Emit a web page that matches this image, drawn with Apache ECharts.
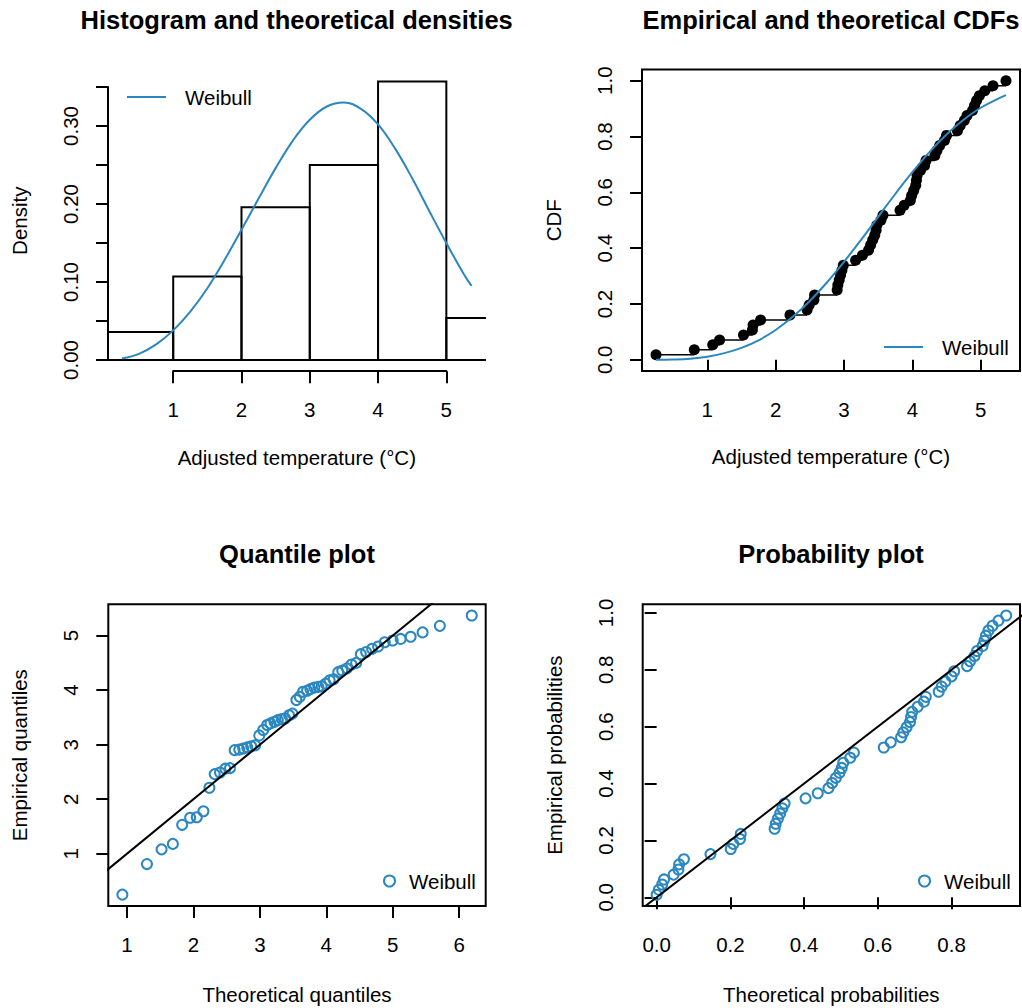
<!DOCTYPE html>
<html>
<head>
<meta charset="utf-8">
<title>Weibull fit diagnostics</title>
<script src="https://cdn.jsdelivr.net/npm/echarts@6.0.0/dist/echarts.min.js"></script>
<style>
  html, body { margin: 0; padding: 0; background: #fff; }
  #chart { width: 1022px; height: 1008px; }
</style>
</head>
<body>
<div id="chart"></div>
<script>
// sorted adjusted temperatures (°C), n = 56
var temps = [0.25, 0.81, 1.08, 1.18, 1.53, 1.66, 1.67, 1.78,
  2.21, 2.46, 2.49, 2.56, 2.57, 2.90, 2.91, 2.93, 2.95, 2.97, 2.99,
  3.17, 3.27, 3.36, 3.39, 3.42, 3.45, 3.47, 3.48, 3.54, 3.57, 3.82, 3.88, 3.97, 3.99,
  4.02, 4.05, 4.06, 4.07, 4.12, 4.18, 4.20, 4.33, 4.36, 4.40, 4.47, 4.50, 4.66, 4.70,
  4.76, 4.80, 4.88, 4.91, 4.94, 4.98, 5.06, 5.18, 5.37];
// empirical cdf levels (i/n)
var ecdfProbs = [0.018, 0.036, 0.054, 0.071, 0.089, 0.107, 0.125, 0.143, 0.161, 0.179,
  0.196, 0.214, 0.232, 0.250, 0.268, 0.286, 0.304, 0.321, 0.339, 0.357, 0.375, 0.393,
  0.411, 0.429, 0.446, 0.464, 0.482, 0.500, 0.518, 0.536, 0.554, 0.571, 0.589, 0.607,
  0.625, 0.643, 0.661, 0.679, 0.696, 0.714, 0.732, 0.750, 0.768, 0.786, 0.804, 0.821,
  0.839, 0.857, 0.875, 0.893, 0.911, 0.929, 0.946, 0.964, 0.982, 1.000];
// plotting positions used in the Q-Q and P-P plots
var empProbs = [0.009, 0.027, 0.045, 0.063, 0.080, 0.098, 0.116, 0.134, 0.152, 0.170,
  0.188, 0.205, 0.223, 0.241, 0.259, 0.277, 0.295, 0.313, 0.330, 0.348, 0.366, 0.384,
  0.402, 0.420, 0.438, 0.455, 0.473, 0.491, 0.509, 0.527, 0.545, 0.563, 0.580, 0.598,
  0.616, 0.634, 0.652, 0.670, 0.688, 0.705, 0.723, 0.741, 0.759, 0.777, 0.795, 0.813,
  0.830, 0.848, 0.866, 0.884, 0.902, 0.920, 0.938, 0.955, 0.973, 0.991];
var theoQuantiles = [0.93, 1.30, 1.52, 1.69, 1.83, 1.95, 2.05, 2.15, 2.24, 2.32, 2.40,
  2.48, 2.55, 2.62, 2.69, 2.75, 2.81, 2.87, 2.93, 2.99, 3.05, 3.11, 3.16, 3.22, 3.27,
  3.33, 3.38, 3.44, 3.49, 3.55, 3.60, 3.65, 3.71, 3.76, 3.82, 3.88, 3.93, 3.99, 4.05,
  4.11, 4.18, 4.24, 4.31, 4.38, 4.45, 4.52, 4.60, 4.69, 4.78, 4.88, 5.00, 5.12, 5.27,
  5.45, 5.71, 6.19];
var theoProbs = [0.000, 0.006, 0.015, 0.020, 0.046, 0.059, 0.061, 0.074, 0.146, 0.201,
  0.208, 0.226, 0.228, 0.320, 0.323, 0.329, 0.335, 0.341, 0.347, 0.404, 0.437, 0.466,
  0.476, 0.486, 0.496, 0.502, 0.506, 0.525, 0.535, 0.616, 0.635, 0.663, 0.669, 0.678,
  0.687, 0.690, 0.693, 0.708, 0.725, 0.730, 0.765, 0.773, 0.783, 0.800, 0.807, 0.842,
  0.850, 0.862, 0.869, 0.884, 0.889, 0.893, 0.900, 0.911, 0.927, 0.948];
// histogram
var binEdges = [0, 1, 2, 3, 4, 5, 6];
var binDensity = [0.036, 0.107, 0.196, 0.250, 0.357, 0.054];
// fitted Weibull curves
var curveX = [0.25, 0.5, 0.75, 1.0, 1.25, 1.5, 1.75, 2.0, 2.25, 2.5, 2.75, 3.0, 3.25,
  3.5, 3.75, 4.0, 4.25, 4.5, 4.75, 5.0, 5.25, 5.37];
var weibullDensity = [0.002, 0.008, 0.020, 0.038, 0.062, 0.092, 0.128, 0.167, 0.207,
  0.246, 0.281, 0.308, 0.325, 0.330, 0.322, 0.302, 0.271, 0.233, 0.191, 0.150, 0.111, 0.095];
var weibullCdf = [0.000, 0.001, 0.004, 0.011, 0.024, 0.043, 0.070, 0.107, 0.154, 0.211,
  0.277, 0.351, 0.430, 0.512, 0.594, 0.672, 0.744, 0.807, 0.860, 0.903, 0.935, 0.948];

var BLUE = '#2b87c0';
var FONT = 'Liberation Sans';
var FS = 20.5;
var txt = { color: '#000', fontFamily: FONT, fontSize: FS };

function xy(xs, ys) {
    var out = [];
    for (var i = 0; i < xs.length; i++) out.push([xs[i], ys[i]]);
    return out;
}

function valAxis(o) {
    var a = {
        type: 'value',
        axisLine: { show: false, lineStyle: { color: '#000', width: 2 } },
        axisTick: { show: true, inside: false, length: 12, lineStyle: { color: '#000', width: 2 } },
        axisLabel: { color: '#000', fontFamily: FONT, fontSize: FS, margin: 27 },
        splitLine: { show: false },
        nameLocation: 'middle',
        nameTextStyle: txt
    };
    for (var k in o) a[k] = o[k];
    return a;
}
function hidden(min, max, idx) {
    return { type: 'value', show: false, min: min, max: max, gridIndex: idx };
}
// axis that only carries its name (ticks/labels live on a separate axis)
function nameOnly(min, max, idx, name, gap, rot) {
    return {
        type: 'value', gridIndex: idx, min: min, max: max,
        axisLine: { show: false }, axisTick: { show: false }, axisLabel: { show: false },
        splitLine: { show: false },
        name: name, nameLocation: 'middle', nameGap: gap, nameRotate: rot, nameTextStyle: txt
    };
}
function fixed1(v) { return v.toFixed(1); }

// ecdf drawn as horizontal pieces only
var ecdfSteps = [];
for (var i = 0; i < temps.length - 1; i++) {
    ecdfSteps.push([temps[i], ecdfProbs[i]], [temps[i + 1], ecdfProbs[i]], [temps[i + 1], null]);
}

var boxGrid = { show: true, borderColor: '#000', borderWidth: 2, backgroundColor: 'transparent' };
function g(l, t, w, h, box) {
    var o = { left: l, top: t, width: w, height: h, containLabel: false, outerBoundsMode: 'none' };
    if (box) for (var k in boxGrid) o[k] = boxGrid[k];
    return o;
}

var lineLegend = { itemWidth: 39, itemHeight: 2, icon: 'rect' };
var circleLegend = { itemWidth: 11, itemHeight: 11, icon: 'circle',
    itemStyle: { color: 'transparent', borderColor: BLUE, borderWidth: 2 } };

var option = {
    animation: false,
    backgroundColor: '#fff',
    title: [
        { text: 'Histogram and theoretical densities', left: 296.7, top: 6.5 },
        { text: 'Empirical and theoretical CDFs', left: 831, top: 6.5 },
        { text: 'Quantile plot', left: 297, top: 540.5 },
        { text: 'Probability plot', left: 831, top: 540.5 }
    ].map(function (t) {
        t.textAlign = 'center';
        t.padding = 0;
        t.textStyle = { color: '#000', fontFamily: FONT, fontSize: 25.5, fontWeight: 'bold' };
        return t;
    }),
    legend: [
        [{ data: ['Weibull'], left: 127, top: 86.5 }, lineLegend],
        [{ data: ['Weibull '], left: 884, top: 336.5 }, lineLegend],
        [{ data: ['Weibull  '], left: 383, top: 870.5 }, circleLegend],
        [{ data: ['Weibull   '], left: 918, top: 870.5 }, circleLegend]
    ].map(function (p) {
        var l = p[0];
        for (var k in p[1]) l[k] = p[1][k];
        l.padding = 0;
        l.selectedMode = false;
        l.formatter = function (n) { return n.trim(); };
        l.textStyle = { color: '#000', fontFamily: FONT, fontSize: FS,
            padding: [0, 0, 0, l.itemWidth > 20 ? 14 : 9] };
        return l;
    }),
    grid: [
        g(108, 70.3, 377.6, 300.9),          // 0 histogram plot area
        g(173.2, 360.5, 273.1, 10.7),        // 1 histogram x axis (1..5)
        g(108, 87, 10, 273),                 // 2 histogram y axis (0..0.35)
        g(642, 69.5, 378, 301.5, true),      // 3 cdf
        g(108.3, 604.3, 377.4, 301.7, true), // 4 qq
        g(642.7, 604.3, 377.3, 301.7, true)  // 5 pp
    ],
    xAxis: [
        nameOnly(0.045, 5.575, 0, 'Adjusted temperature (°C)', 75.5, 0),
        valAxis({ gridIndex: 1, min: 1, max: 5, interval: 1,
            axisLine: { show: true, lineStyle: { color: '#000', width: 2 } },
            axisLabel: { color: '#000', fontFamily: FONT, fontSize: FS, margin: 28 } }),
        hidden(0, 1, 2),
        valAxis({ gridIndex: 3, min: 0.045, max: 5.575,
            axisTick: { show: true, length: 12, customValues: [1, 2, 3, 4, 5], lineStyle: { color: '#000', width: 2 } },
            axisLabel: { color: '#000', fontFamily: FONT, fontSize: FS, margin: 28, customValues: [1, 2, 3, 4, 5] },
            name: 'Adjusted temperature (°C)', nameGap: 75 }),
        valAxis({ gridIndex: 4, min: 0.718, max: 6.40,
            axisTick: { show: true, length: 12, customValues: [1, 2, 3, 4, 5, 6], lineStyle: { color: '#000', width: 2 } },
            axisLabel: { color: '#000', fontFamily: FONT, fontSize: FS, margin: 28, customValues: [1, 2, 3, 4, 5, 6] },
            name: 'Theoretical quantiles', nameGap: 78 }),
        valAxis({ gridIndex: 5, min: -0.0378, max: 0.9855,
            axisTick: { show: true, length: 12, customValues: [0, 0.2, 0.4, 0.6, 0.8], lineStyle: { color: '#000', width: 2 } },
            axisLabel: { color: '#000', fontFamily: FONT, fontSize: FS, margin: 28, customValues: [0, 0.2, 0.4, 0.6, 0.8], formatter: fixed1 },
            name: 'Theoretical probabilities', nameGap: 78 })
    ],
    yAxis: [
        nameOnly(-0.0143, 0.3714, 0, 'Density', 78, 90),
        hidden(0, 1, 1),
        valAxis({ gridIndex: 2, min: 0, max: 0.35, interval: 0.05,
            axisLine: { show: true, lineStyle: { color: '#000', width: 2 } },
            axisLabel: { color: '#000', fontFamily: FONT, fontSize: FS, margin: 27, rotate: 90,
                formatter: function (v) { return Math.round(v * 100) % 10 === 0 ? v.toFixed(2) : ''; } } }),
        valAxis({ gridIndex: 3, min: -0.04, max: 1.04,
            axisTick: { show: true, length: 12, customValues: [0, 0.2, 0.4, 0.6, 0.8, 1], lineStyle: { color: '#000', width: 2 } },
            axisLabel: { color: '#000', fontFamily: FONT, fontSize: FS, margin: 27, rotate: 90, customValues: [0, 0.2, 0.4, 0.6, 0.8, 1], formatter: fixed1 },
            name: 'CDF', nameGap: 78, nameRotate: 90 }),
        valAxis({ gridIndex: 4, min: 0.041, max: 5.575,
            axisTick: { show: true, length: 12, customValues: [1, 2, 3, 4, 5], lineStyle: { color: '#000', width: 2 } },
            axisLabel: { color: '#000', fontFamily: FONT, fontSize: FS, margin: 27, rotate: 90, customValues: [1, 2, 3, 4, 5] },
            name: 'Empirical quantiles', nameGap: 78, nameRotate: 90 }),
        valAxis({ gridIndex: 5, min: -0.0304, max: 1.0303,
            axisTick: { show: true, length: 12, customValues: [0, 0.2, 0.4, 0.6, 0.8, 1], lineStyle: { color: '#000', width: 2 } },
            axisLabel: { color: '#000', fontFamily: FONT, fontSize: FS, margin: 27, rotate: 90, customValues: [0, 0.2, 0.4, 0.6, 0.8, 1], formatter: fixed1 },
            name: 'Empirical probabilities', nameGap: 78, nameRotate: 90 })
    ],
    series: [
        {
            type: 'custom', name: 'hist', xAxisIndex: 0, yAxisIndex: 0, clip: true,
            data: binDensity.map(function (d, i) { return [binEdges[i], binEdges[i + 1], d]; }),
            encode: { x: [0, 1], y: 2 },
            renderItem: function (params, api) {
                var p0 = api.coord([api.value(0), 0]);
                var p1 = api.coord([api.value(1), api.value(2)]);
                return {
                    type: 'rect',
                    shape: { x: p0[0], y: p1[1], width: p1[0] - p0[0], height: p0[1] - p1[1] },
                    style: { fill: 'transparent', stroke: '#000', lineWidth: 2 }
                };
            }
        },
        {
            type: 'line', name: 'Weibull', xAxisIndex: 0, yAxisIndex: 0,
            data: xy(curveX, weibullDensity), smooth: 0.4, symbol: 'none',
            lineStyle: { color: BLUE, width: 2 }, itemStyle: { color: BLUE }
        },
        {
            type: 'line', name: 'ecdf', xAxisIndex: 3, yAxisIndex: 3,
            data: ecdfSteps, symbol: 'none', connectNulls: false,
            lineStyle: { color: '#000', width: 1.5 }
        },
        {
            type: 'scatter', name: 'ecdfPts', xAxisIndex: 3, yAxisIndex: 3,
            data: xy(temps, ecdfProbs), symbol: 'circle', symbolSize: 11,
            itemStyle: { color: '#000', opacity: 1 }
        },
        {
            type: 'line', name: 'Weibull ', xAxisIndex: 3, yAxisIndex: 3,
            data: xy(curveX, weibullCdf), smooth: 0.4, symbol: 'none',
            lineStyle: { color: BLUE, width: 2 }, itemStyle: { color: BLUE }
        },
        {
            type: 'scatter', name: 'Weibull  ', xAxisIndex: 4, yAxisIndex: 4,
            data: xy(theoQuantiles, temps), symbol: 'circle', symbolSize: 10,
            itemStyle: { color: 'transparent', borderColor: BLUE, borderWidth: 2, opacity: 1 }
        },
        {
            type: 'line', name: 'qqline', xAxisIndex: 4, yAxisIndex: 4, clip: true,
            data: [[0, 0], [7, 7]], symbol: 'none', lineStyle: { color: '#000', width: 2 }
        },
        {
            type: 'scatter', name: 'Weibull   ', xAxisIndex: 5, yAxisIndex: 5,
            data: xy(theoProbs, empProbs), symbol: 'circle', symbolSize: 10,
            itemStyle: { color: 'transparent', borderColor: BLUE, borderWidth: 2, opacity: 1 }
        },
        {
            type: 'line', name: 'ppline', xAxisIndex: 5, yAxisIndex: 5, clip: true,
            data: [[-0.1, -0.1], [1.1, 1.1]], symbol: 'none', lineStyle: { color: '#000', width: 2 }
        }
    ]
};

var chart = echarts.init(document.getElementById('chart'), null, { renderer: 'svg' });
chart.setOption(option);
</script>
</body>
</html>
